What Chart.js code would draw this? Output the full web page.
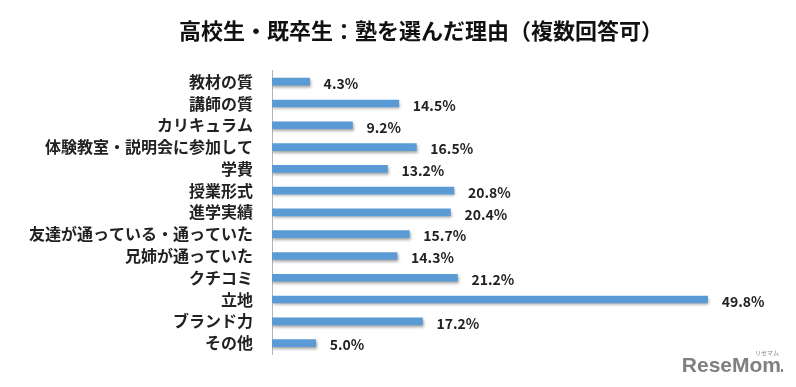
<!DOCTYPE html>
<html><head><meta charset="utf-8">
<style>html,body{margin:0;padding:0;background:#fff;}#wrap{width:796px;height:387px;}</style>
<script src="https://cdn.jsdelivr.net/npm/chart.js@4/dist/chart.umd.min.js"></script>
</head><body>
<div id="wrap"><canvas id="c" width="796" height="387"></canvas></div>
<script>
const titleText = '高校生・既卒生：塾を選んだ理由（複数回答可）';
const categories = ['教材の質','講師の質','カリキュラム','体験教室・説明会に参加して','学費','授業形式','進学実績','友達が通っている・通っていた','兄姉が通っていた','クチコミ','立地','ブランド力','その他'];
const values = [4.3,14.5,9.2,16.5,13.2,20.8,20.4,15.7,14.3,21.2,49.8,17.2,5.0];
const watermark = 'ReseMom';
const watermarkKana = 'リセマム';
const JP = "'Noto Sans CJK JP','Noto Sans',sans-serif";

const shadowPlugin = {
  id:'shadow',
  afterLayout(chart){ const t=chart.titleBlock; if(t){ t.left+=23; t.right+=23; } },
  beforeDatasetDraw(chart){const c=chart.ctx;c.save();c.shadowColor='rgba(0,0,0,0.35)';c.shadowBlur=3;c.shadowOffsetX=1;c.shadowOffsetY=2;},
  afterDatasetDraw(chart){chart.ctx.restore();}
};
const labelPlugin = {
  id:'vlabels',
  afterDatasetsDraw(chart){
    const c=chart.ctx; const meta=chart.getDatasetMeta(0);
    c.save(); c.font="bold 14px "+JP; c.fillStyle='#222'; c.textAlign='left'; c.textBaseline='middle';
    meta.data.forEach((el,i)=>{ c.fillText(values[i].toFixed(1)+'%', el.x+14, el.y+2); });
    c.restore();
  },
  afterDraw(chart){
    const c=chart.ctx; c.save();
    c.font="bold 21px 'Liberation Sans Narrow','Liberation Sans',sans-serif";
    c.fillStyle='#808080'; c.textAlign='right'; c.textBaseline='alphabetic';
    c.fillText(watermark, 781, 372);
    c.font="6px "+JP; c.fillText(watermarkKana, 779, 355);
    c.fillRect(781,369,2,3);
    c.restore();
  }
};
const ctx=document.getElementById('c').getContext('2d');
new Chart(ctx,{
  type:'bar',
  data:{labels:categories,datasets:[{data:values,
    backgroundColor(context){
      const el=context.element; const ch=context.chart;
      if(!el||!el.y) return '#5b9bd5';
      const g=ch.ctx.createLinearGradient(0,el.y-3.5,0,el.y+3.5);
      g.addColorStop(0,'#a9cbef'); g.addColorStop(0.35,'#6fa8e0'); g.addColorStop(1,'#4a86c8');
      return g;
    },
    borderWidth:0, barThickness:7}]},
  options:{
    indexAxis:'y', responsive:false, animation:false,
    layout:{padding:{left:0,right:0,bottom:33,top:0}},
    plugins:{legend:{display:false},tooltip:{enabled:false},
      title:{display:true,text:titleText,color:'#111',font:{family:JP,size:22,weight:'bold',lineHeight:1.2},padding:{top:17,bottom:27.4}}},
    scales:{
      x:{display:false,min:0,max:59.9},
      y:{afterFit(s){s.width=272;},
        grid:{display:false,drawTicks:false},
        border:{display:true,color:'#b5b5b5',width:1},
        ticks:{color:'#222',padding:19,font:{family:JP,size:16,weight:'bold'},autoSkip:false}}
    }
  },
  plugins:[shadowPlugin,labelPlugin]
});
</script>
</body></html>
